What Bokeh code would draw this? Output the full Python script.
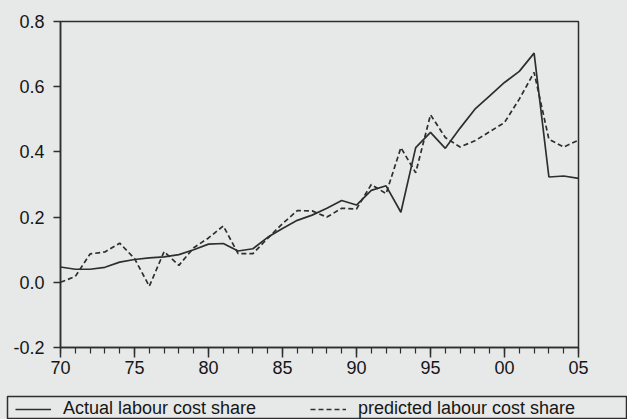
from bokeh.plotting import figure
from bokeh.layouts import column
from bokeh.models import Range1d, FixedTicker, Legend, LegendItem, ColumnDataSource
from bokeh.embed import file_html
from bokeh.resources import INLINE

years = list(range(1970, 2006))
actual = [0.047, 0.040, 0.040, 0.046, 0.062, 0.070, 0.075, 0.078, 0.085, 0.100,
          0.117, 0.119, 0.096, 0.103, 0.138, 0.165, 0.190, 0.206, 0.227, 0.251,
          0.237, 0.282, 0.296, 0.215, 0.413, 0.460, 0.411, 0.473, 0.531, 0.572,
          0.613, 0.647, 0.703, 0.323, 0.326, 0.319]
predicted = [0.000, 0.018, 0.087, 0.093, 0.120, 0.073, -0.012, 0.094, 0.052, 0.106,
             0.136, 0.173, 0.088, 0.088, 0.135, 0.180, 0.220, 0.219, 0.200, 0.227,
             0.225, 0.300, 0.272, 0.413, 0.336, 0.514, 0.444, 0.415, 0.434, 0.462,
             0.490, 0.562, 0.644, 0.439, 0.415, 0.436]

x_ticks = [1970, 1975, 1980, 1985, 1990, 1995, 2000, 2005]
x_tick_labels = ["70", "75", "80", "85", "90", "95", "00", "05"]
y_ticks = [-0.2, 0.0, 0.2, 0.4, 0.6, 0.8]
y_tick_labels = ["-0.2", "0.0", "0.2", "0.4", "0.6", "0.8"]
series_labels = ["Actual labour cost share", "predicted labour cost share"]

PAPER = "#e7e9e8"
INK = "#2e2e2e"
TEXT = "#161616"
FONT = "Liberation Sans"
DASH = "5 3"

src = ColumnDataSource(dict(year=years, actual=actual, predicted=predicted))

p = figure(width=627, height=390, output_backend="svg", toolbar_location=None,
           x_range=Range1d(1970, 2005), y_range=Range1d(-0.2, 0.8),
           min_border_left=60, min_border_top=21, min_border_right=49, min_border_bottom=43)
p.frame_align = False
p.background_fill_color = PAPER
p.border_fill_color = PAPER
p.outline_line_color = INK
p.outline_line_width = 1.5
p.xgrid.visible = False
p.ygrid.visible = False

p.line("year", "actual", source=src, line_color=INK, line_width=1.7)
p.line("year", "predicted", source=src, line_color=INK, line_width=1.7, line_dash=DASH)

p.xaxis.ticker = FixedTicker(ticks=x_ticks, minor_ticks=years)
p.xaxis.major_label_overrides = dict(zip(x_ticks, x_tick_labels))
p.yaxis.ticker = FixedTicker(ticks=y_ticks, minor_ticks=[])
p.yaxis.major_label_overrides = dict(zip(y_ticks, y_tick_labels))

for ax in (p.xaxis[0], p.yaxis[0]):
    ax.axis_line_color = INK
    ax.axis_line_width = 1.5
    ax.major_tick_line_color = INK
    ax.major_tick_line_width = 1.5
    ax.minor_tick_line_color = INK
    ax.minor_tick_line_width = 1.2
    ax.major_tick_in = 0
    ax.minor_tick_in = 0
    ax.major_label_text_font = FONT
    ax.major_label_text_font_size = "18px"
    ax.major_label_text_color = TEXT

p.xaxis.major_tick_out = 10
p.xaxis.minor_tick_out = 6
p.xaxis.major_label_standoff = 3
p.yaxis.major_tick_out = 7
p.yaxis.minor_tick_out = 0
p.yaxis.major_label_standoff = 9

# legend strip below the chart; its frame outline is the legend box
q = figure(width=627, height=29, output_backend="svg", toolbar_location=None,
           x_range=Range1d(0, 1), y_range=Range1d(0, 1),
           x_axis_type=None, y_axis_type=None,
           min_border_left=7, min_border_top=6, min_border_right=0, min_border_bottom=0)
q.frame_align = False
q.background_fill_color = PAPER
q.border_fill_color = PAPER
q.outline_line_color = INK
q.outline_line_width = 1.5
q.xgrid.visible = False
q.ygrid.visible = False

# same series, outside this strip's ranges: only their legend swatches show
l1 = q.line("year", "actual", source=src, line_color=INK, line_width=1.7)
l2 = q.line("year", "predicted", source=src, line_color=INK, line_width=1.7, line_dash=DASH)

legend = Legend(items=[LegendItem(label=series_labels[0], renderers=[l1]),
                       LegendItem(label=series_labels[1], renderers=[l2])],
                orientation="horizontal", location=(8, 0),
                glyph_width=36, glyph_height=20, label_standoff=12,
                label_width=237, label_height=20, spacing=10,
                padding=0, margin=0,
                label_text_font=FONT, label_text_font_size="18px",
                label_text_color=TEXT,
                border_line_color=None, background_fill_alpha=0.0)
q.add_layout(legend, "center")

layout = column(p, q, spacing=0, styles={"background-color": PAPER})
open("out.html", "w").write(file_html(layout, INLINE))
